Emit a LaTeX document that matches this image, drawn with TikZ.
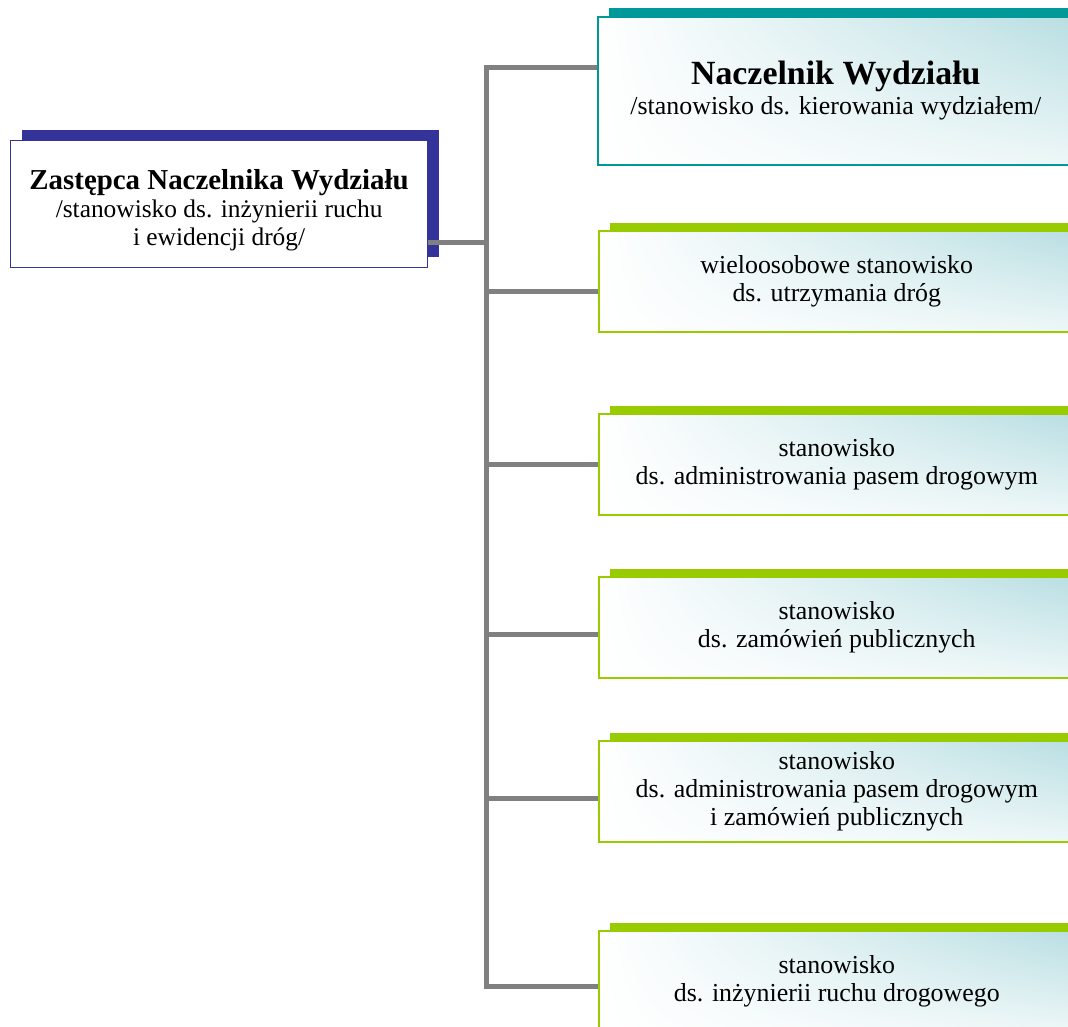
\documentclass[tikz,border=0pt]{standalone}
\usepackage{fontspec}
\setmainfont{Liberation Serif}
\usetikzlibrary{positioning,shadows,shadings}

\definecolor{navy}{RGB}{51,51,153}
\definecolor{tealline}{RGB}{0,153,153}
\definecolor{lime}{RGB}{153,204,0}
\definecolor{aqua}{RGB}{184,222,226}
\definecolor{trunkgray}{RGB}{128,128,128}

\tikzset{
  post/.style={rectangle, align=center, inner sep=0pt, line width=1.6bp,
    upper left=white, lower left=white, upper right=aqua, lower right=aqua!25,
    font=\fontsize{26}{28.5}\selectfont},
  headpost/.style={post, draw=tealline, minimum width=476bp, minimum height=148bp,
    general shadow={fill=tealline, shadow xshift=11bp, shadow yshift=9bp}},
  staffpost/.style={post, draw=lime, minimum width=476bp, minimum height=101bp,
    general shadow={fill=lime, shadow xshift=11bp, shadow yshift=8bp}},
  deputy/.style={rectangle, align=center, draw=navy, fill=white, line width=1.2bp,
    minimum width=417bp, minimum height=127bp, inner sep=0pt,
    font=\fontsize{25.5}{28}\selectfont,
    general shadow={fill=navy, shadow xshift=11bp, shadow yshift=11bp}},
  conn/.style={draw=trunkgray, line width=5bp}
}

\begin{document}
\begin{tikzpicture}[x=1bp,y=-1bp]
	\useasboundingbox (0,0) rectangle (1068,1027);
	\clip (0,0) rectangle (1068,1027);
	% posts
	\node[deputy, anchor=north west] (zast) at (10,140)
		{\rule{0pt}{32bp}{\fontsize{29}{31}\selectfont\bfseries Zastępca Naczelnika Wydziału}\\/stanowisko ds. inżynierii ruchu\\i ewidencji dróg/};
	\node[headpost, anchor=north west] (nacz) at (597,16)
		{\rule{0pt}{23bp}{\fontsize{34}{36}\selectfont\bfseries Naczelnik Wydziału}\\[1.5bp]/stanowisko ds. kierowania wydziałem/};
	\node[staffpost, anchor=north west] (utrz) at (598,230)
		{wieloosobowe stanowisko\\ds. utrzymania dróg};
	\node[staffpost, anchor=north west] (pas) at (598,413)
		{stanowisko\\ds. administrowania pasem drogowym};
	\node[staffpost, anchor=north west] (zam) at (598,576)
		{stanowisko\\ds. zamówień publicznych};
	\node[staffpost, anchor=north west] (paszam) at (598,740)
		{stanowisko\\ds. administrowania pasem drogowym\\i zamówień publicznych};
	\node[staffpost, anchor=north west] (ruch) at (598,930)
		{stanowisko\\ds. inżynierii ruchu drogowego};
	% connectors
	\coordinate (trunk) at (486,0);
	\draw[conn] ([yshift=23bp]nacz.west) -- ([yshift=23bp]nacz.west -| trunk)
		-- ([yshift=-5bp]ruch.west -| trunk) -- ([yshift=-5bp]ruch.west);
	\draw[conn] ([yshift=-38bp]zast.east) -- ([yshift=-38bp]zast.east -| trunk);
	\draw[conn] ([yshift=-10bp]utrz.west -| trunk) -- ([yshift=-10bp]utrz.west);
	\draw[conn] (pas.west -| trunk) -- (pas.west);
	\draw[conn] ([yshift=-7bp]zam.west -| trunk) -- ([yshift=-7bp]zam.west);
	\draw[conn] ([yshift=-7bp]paszam.west -| trunk) -- ([yshift=-7bp]paszam.west);
\end{tikzpicture}
\end{document}
